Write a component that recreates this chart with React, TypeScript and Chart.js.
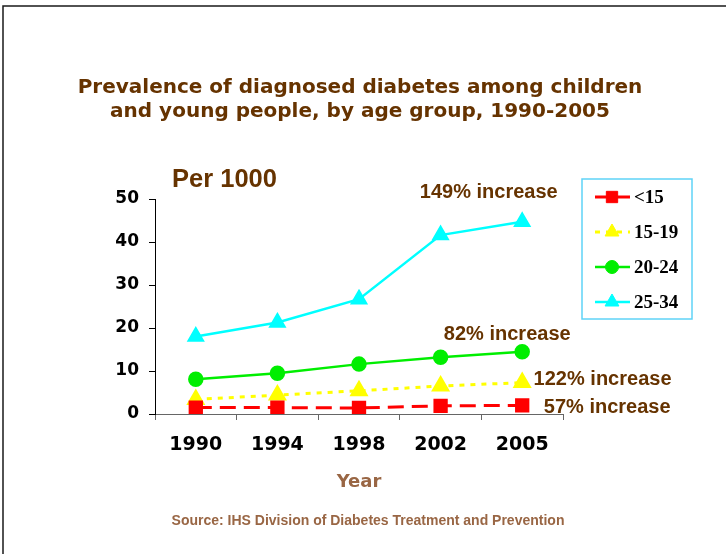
import React, { useEffect, useRef } from "react";
import { Chart, registerables } from "chart.js";
import { drawPoint } from "chart.js/helpers";

Chart.register(...registerables);

// ---- data ----
const years = ["1990", "1994", "1998", "2002", "2005"];
const seriesNames = ["<15", "15-19", "20-24", "25-34"];
const under15 = [1.5, 1.5, 1.4, 1.9, 2.0];
const age15to19 = [3.4, 4.4, 5.4, 6.5, 7.3];
const age20to24 = [8.1, 9.5, 11.6, 13.2, 14.5];
const age25to34 = [18.0, 21.3, 26.7, 41.6, 44.7];
const yTickValues = [0, 10, 20, 30, 40, 50];
const increaseLabels = ["149% increase", "82% increase", "122% increase", "57% increase"];

const titleLines = [
  "Prevalence of diagnosed diabetes among children",
  "and young people, by age group, 1990-2005",
];
const unitLabel = "Per 1000";
const xAxisTitle = "Year";
const sourceText = "Source: IHS Division of Diabetes Treatment and Prevention";

// annotation anchors (category index units, value units), left aligned
const annotationAnchors = [
  { i: 2.745, v: 51.4 },
  { i: 3.04, v: 18.6 },
  { i: 4.14, v: 8.1 },
  { i: 4.265, v: 1.6 },
];

const BROWN = "#663300";

const overlayPlugin = {
  id: "overlay",
  afterDraw(chart: any) {
    const ctx = chart.ctx as CanvasRenderingContext2D;
    const xs = chart.scales.x;
    const ys = chart.scales.y;
    ctx.save();

    // frame
    ctx.strokeStyle = "#1a1a1a";
    ctx.lineWidth = 1.5;
    ctx.beginPath();
    ctx.moveTo(3, 554);
    ctx.lineTo(3, 6);
    ctx.lineTo(726, 6);
    ctx.stroke();

    // title
    ctx.fillStyle = BROWN;
    ctx.textAlign = "center";
    ctx.textBaseline = "middle";
    ctx.font = 'bold 20px "DejaVu Sans"';
    ctx.fillText(titleLines[0], 360, 88);
    ctx.fillText(titleLines[1], 360, 112);

    // unit label
    ctx.textAlign = "left";
    ctx.font = 'bold 25.5px "Liberation Sans"';
    ctx.fillText(unitLabel, 172, 180);

    // annotations
    ctx.font = 'bold 20px "Liberation Sans"';
    increaseLabels.forEach((t, k) => {
      const a = annotationAnchors[k];
      ctx.fillText(t, xs.getPixelForValue(a.i), ys.getPixelForValue(a.v));
    });

    // source
    ctx.fillStyle = "#996644";
    ctx.textAlign = "center";
    ctx.font = 'bold 14px "Liberation Sans"';
    ctx.fillText(sourceText, 368, 521);

    // legend
    const lx = 582, ly = 179, lw = 110, lh = 140;
    ctx.strokeStyle = "#5fd3f7";
    ctx.lineWidth = 1.5;
    ctx.strokeRect(lx, ly, lw, lh);
    chart.data.datasets.forEach((ds: any, k: number) => {
      const ry = 197 + 35 * k;
      ctx.save();
      ctx.strokeStyle = ds.borderColor;
      ctx.lineWidth = ds.borderWidth;
      ctx.setLineDash(k === 0 ? [] : ds.borderDash || []);
      ctx.beginPath();
      ctx.moveTo(595, ry);
      ctx.lineTo(630, ry);
      ctx.stroke();
      ctx.setLineDash([]);
      ctx.fillStyle = ds.pointBackgroundColor;
      ctx.strokeStyle = ds.pointBorderColor;
      ctx.lineWidth = 1;
      drawPoint(ctx, { pointStyle: ds.pointStyle, radius: ds.pointRadius, rotation: 0, borderWidth: 1 }, 612, ry);
      ctx.restore();
      ctx.fillStyle = "#000";
      ctx.textAlign = "left";
      ctx.textBaseline = "middle";
      ctx.font = 'bold 19px "Liberation Serif"';
      ctx.fillText(ds.label, 634, ry + 1);
    });

    ctx.restore();
  },
};

export default function App() {
  const ref = useRef<HTMLCanvasElement | null>(null);
  useEffect(() => {
    if (!ref.current) return;
    const chart = new Chart(ref.current, {
      type: "line",
      data: {
        labels: years,
        datasets: [
          {
            label: seriesNames[0],
            data: under15,
            borderColor: "#ff0000",
            backgroundColor: "#ff0000",
            borderWidth: 3,
            borderDash: [16, 8],
            pointStyle: "rect",
            pointRadius: 8,
            pointBackgroundColor: "#ff0000",
            pointBorderColor: "#ff0000",
          },
          {
            label: seriesNames[1],
            data: age15to19,
            borderColor: "#ffff00",
            backgroundColor: "#ffff00",
            borderWidth: 3,
            borderDash: [5, 6],
            pointStyle: "triangle",
            pointRadius: 8,
            pointBackgroundColor: "#ffff00",
            pointBorderColor: "#ffff00",
          },
          {
            label: seriesNames[2],
            data: age20to24,
            borderColor: "#00ee00",
            backgroundColor: "#00ee00",
            borderWidth: 2.5,
            pointStyle: "circle",
            pointRadius: 6.5,
            pointBackgroundColor: "#00ee00",
            pointBorderColor: "#00ee00",
          },
          {
            label: seriesNames[3],
            data: age25to34,
            borderColor: "#00ffff",
            backgroundColor: "#00ffff",
            borderWidth: 2.5,
            pointStyle: "triangle",
            pointRadius: 8,
            pointBackgroundColor: "#00ffff",
            pointBorderColor: "#00ffff",
          },
        ],
      },
      options: {
        responsive: false,
        animation: false,
        devicePixelRatio: 1,
        layout: { padding: { left: 0, right: 163, top: 199, bottom: 60 } },
        plugins: {
          legend: { display: false },
          title: { display: false },
          tooltip: { enabled: false },
        },
        scales: {
          x: {
            type: "category",
            offset: true,
            afterFit: (s: any) => {
              s.height = 80;
            },
            grid: {
              offset: true,
              drawOnChartArea: false,
              drawTicks: true,
              tickLength: 6,
              color: "#666",
            },
            border: { display: true, color: "#666", width: 1 },
            ticks: {
              color: "#000",
              padding: 14,
              font: { family: "DejaVu Sans", weight: "bold", size: 19 },
              maxRotation: 0,
            },
            title: {
              display: true,
              text: xAxisTitle,
              color: "#996644",
              font: { family: "DejaVu Sans", weight: "bold", size: 18 },
              padding: { top: 0, bottom: 1 },
            },
          },
          y: {
            min: 0,
            max: 50,
            afterFit: (s: any) => {
              s.width = 155;
            },
            afterBuildTicks: (s: any) => {
              s.ticks = yTickValues.map((v) => ({ value: v }));
            },
            grid: {
              drawOnChartArea: false,
              drawTicks: true,
              tickLength: 6,
              color: "#000",
            },
            border: { display: true, color: "#000", width: 1 },
            ticks: {
              color: "#000",
              padding: 10,
              font: { family: "DejaVu Sans", weight: "bold", size: 17 },
            },
          },
        },
      },
      plugins: [overlayPlugin],
    });
    return () => chart.destroy();
  }, []);
  return (
    <div style={{ position: "absolute", left: 0, top: 0, width: 726, height: 554, background: "#fff" }}>
      <canvas ref={ref} width={726} height={554} style={{ display: "block" }} />
    </div>
  );
}
